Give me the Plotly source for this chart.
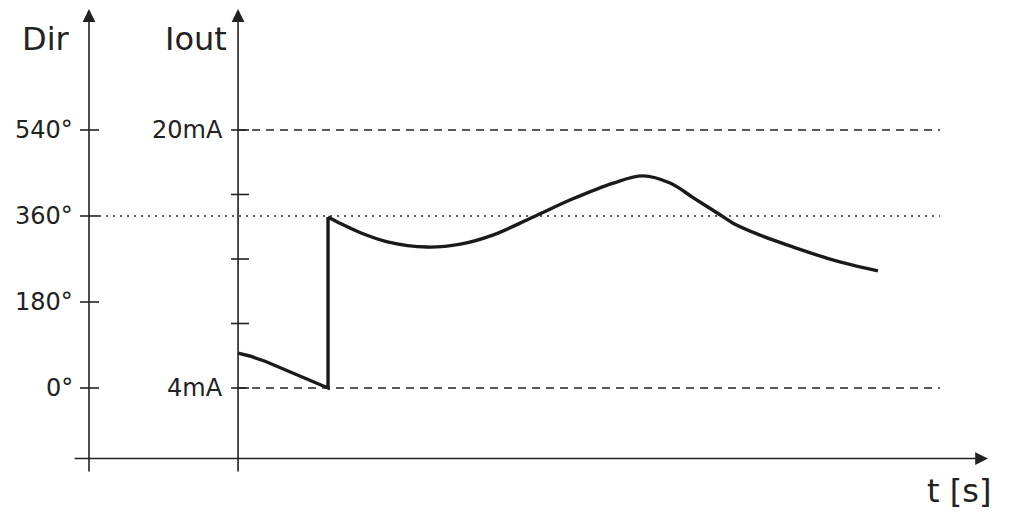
import plotly.graph_objects as go

# curve before the jump (time in s, direction in degrees)
t_before = [0, 0.13, 0.3, 0.5, 0.74, 1.0, 1.0]
dir_before = [73, 67, 56, 40, 21, 0, 358]

# curve after the jump
t_after = [1.0, 1.13, 1.36, 1.66, 2.1, 2.47, 2.83, 3.28, 3.72, 4.17, 4.5, 4.8,
           5.06, 5.36, 5.5, 5.8, 6.17, 6.54, 6.83, 7.11]
dir_after = [358, 345, 325, 306, 295, 301, 320, 358, 396, 429, 444, 429,
             398, 362, 345, 320, 295, 272, 257, 245]

dir_ticks = [0, 180, 360, 540]
dir_labels = ['0°', '180°', '360°', '540°']
iout_ticks_ma = [4, 8, 12, 16, 20]
iout_labels = {4: '4mA', 20: '20mA'}

INK = '#222222'
FONT = 'DejaVu Sans'


def ma_to_deg(ma):
    return (ma - 4) * 540 / 16


def generate_direction_chart():
    fig = go.Figure()
    fig.add_trace(go.Scatter(x=t_before, y=dir_before, mode='lines',
                             line=dict(color='#1a1a1a', width=3.4), hoverinfo='skip'))
    fig.add_trace(go.Scatter(x=t_after, y=dir_after, mode='lines',
                             line=dict(color='#1a1a1a', width=3.4, shape='spline', smoothing=1.0),
                             hoverinfo='skip'))

    dir_x = -1.656
    axis_y = -147.6
    shapes = []
    # reference lines
    shapes.append(dict(type='line', x0=0, x1=7.8, y0=ma_to_deg(20), y1=ma_to_deg(20),
                       line=dict(color=INK, width=1.3, dash='8px,6px')))
    shapes.append(dict(type='line', x0=0, x1=7.8, y0=ma_to_deg(4), y1=ma_to_deg(4),
                       line=dict(color=INK, width=1.3, dash='8px,6px')))
    shapes.append(dict(type='line', x0=-1.544, x1=7.8, y0=360, y1=360,
                       line=dict(color=INK, width=1.5, dash='2px,5px')))
    # ticks
    for d in dir_ticks:
        shapes.append(dict(type='line', x0=-1.756, x1=-1.544, y0=d, y1=d,
                           line=dict(color=INK, width=1.6)))
    for ma in iout_ticks_ma:
        shapes.append(dict(type='line', x0=-0.078, x1=0.122, y0=ma_to_deg(ma), y1=ma_to_deg(ma),
                           line=dict(color=INK, width=1.6)))

    annotations = []
    # axes with arrow heads
    arrow = dict(text='', showarrow=True, arrowhead=2, arrowsize=1.6, arrowwidth=1.6,
                 arrowcolor=INK, xref='x', yref='y', axref='x', ayref='y', standoff=0)
    annotations.append(dict(arrow, x=dir_x, y=793, ax=dir_x, ay=-178))
    annotations.append(dict(arrow, x=0, y=793, ax=0, ay=-178))
    annotations.append(dict(arrow, x=8.333, y=axis_y, ax=-1.833, ay=axis_y))

    for d, lab in zip(dir_ticks, dir_labels):
        annotations.append(dict(text=lab, x=-1.81, y=d, xanchor='right', yanchor='middle',
                                showarrow=False, font=dict(size=24, color=INK, family=FONT)))
    for ma, lab in iout_labels.items():
        annotations.append(dict(text=lab, x=-0.144, y=ma_to_deg(ma), xanchor='right', yanchor='middle',
                                showarrow=False, font=dict(size=24, color=INK, family=FONT)))
    annotations.append(dict(text='Dir', x=-2.133, y=730, xanchor='center', yanchor='middle',
                            showarrow=False, font=dict(size=32, color=INK, family=FONT)))
    annotations.append(dict(text='Iout', x=-0.1, y=730, xanchor='right', yanchor='middle',
                            showarrow=False, font=dict(size=32, color=INK, family=FONT)))
    annotations.append(dict(text='t [s]', x=8.01, y=-215, xanchor='center', yanchor='middle',
                            showarrow=False, font=dict(size=32, color=INK, family=FONT)))

    # the page body adds an 8px offset, so the figure covers the window from (8, 8)
    fig.update_layout(width=1008, height=506, autosize=False,
                      margin=dict(l=0, r=0, t=0, b=0),
                      paper_bgcolor='white', plot_bgcolor='white',
                      showlegend=False, shapes=shapes, annotations=annotations,
                      xaxis=dict(range=[-2.556, 8.644], visible=False),
                      yaxis=dict(range=[-263.7, 795.3], visible=False))
    return fig


fig = generate_direction_chart()
fig.write_html("out.html")
